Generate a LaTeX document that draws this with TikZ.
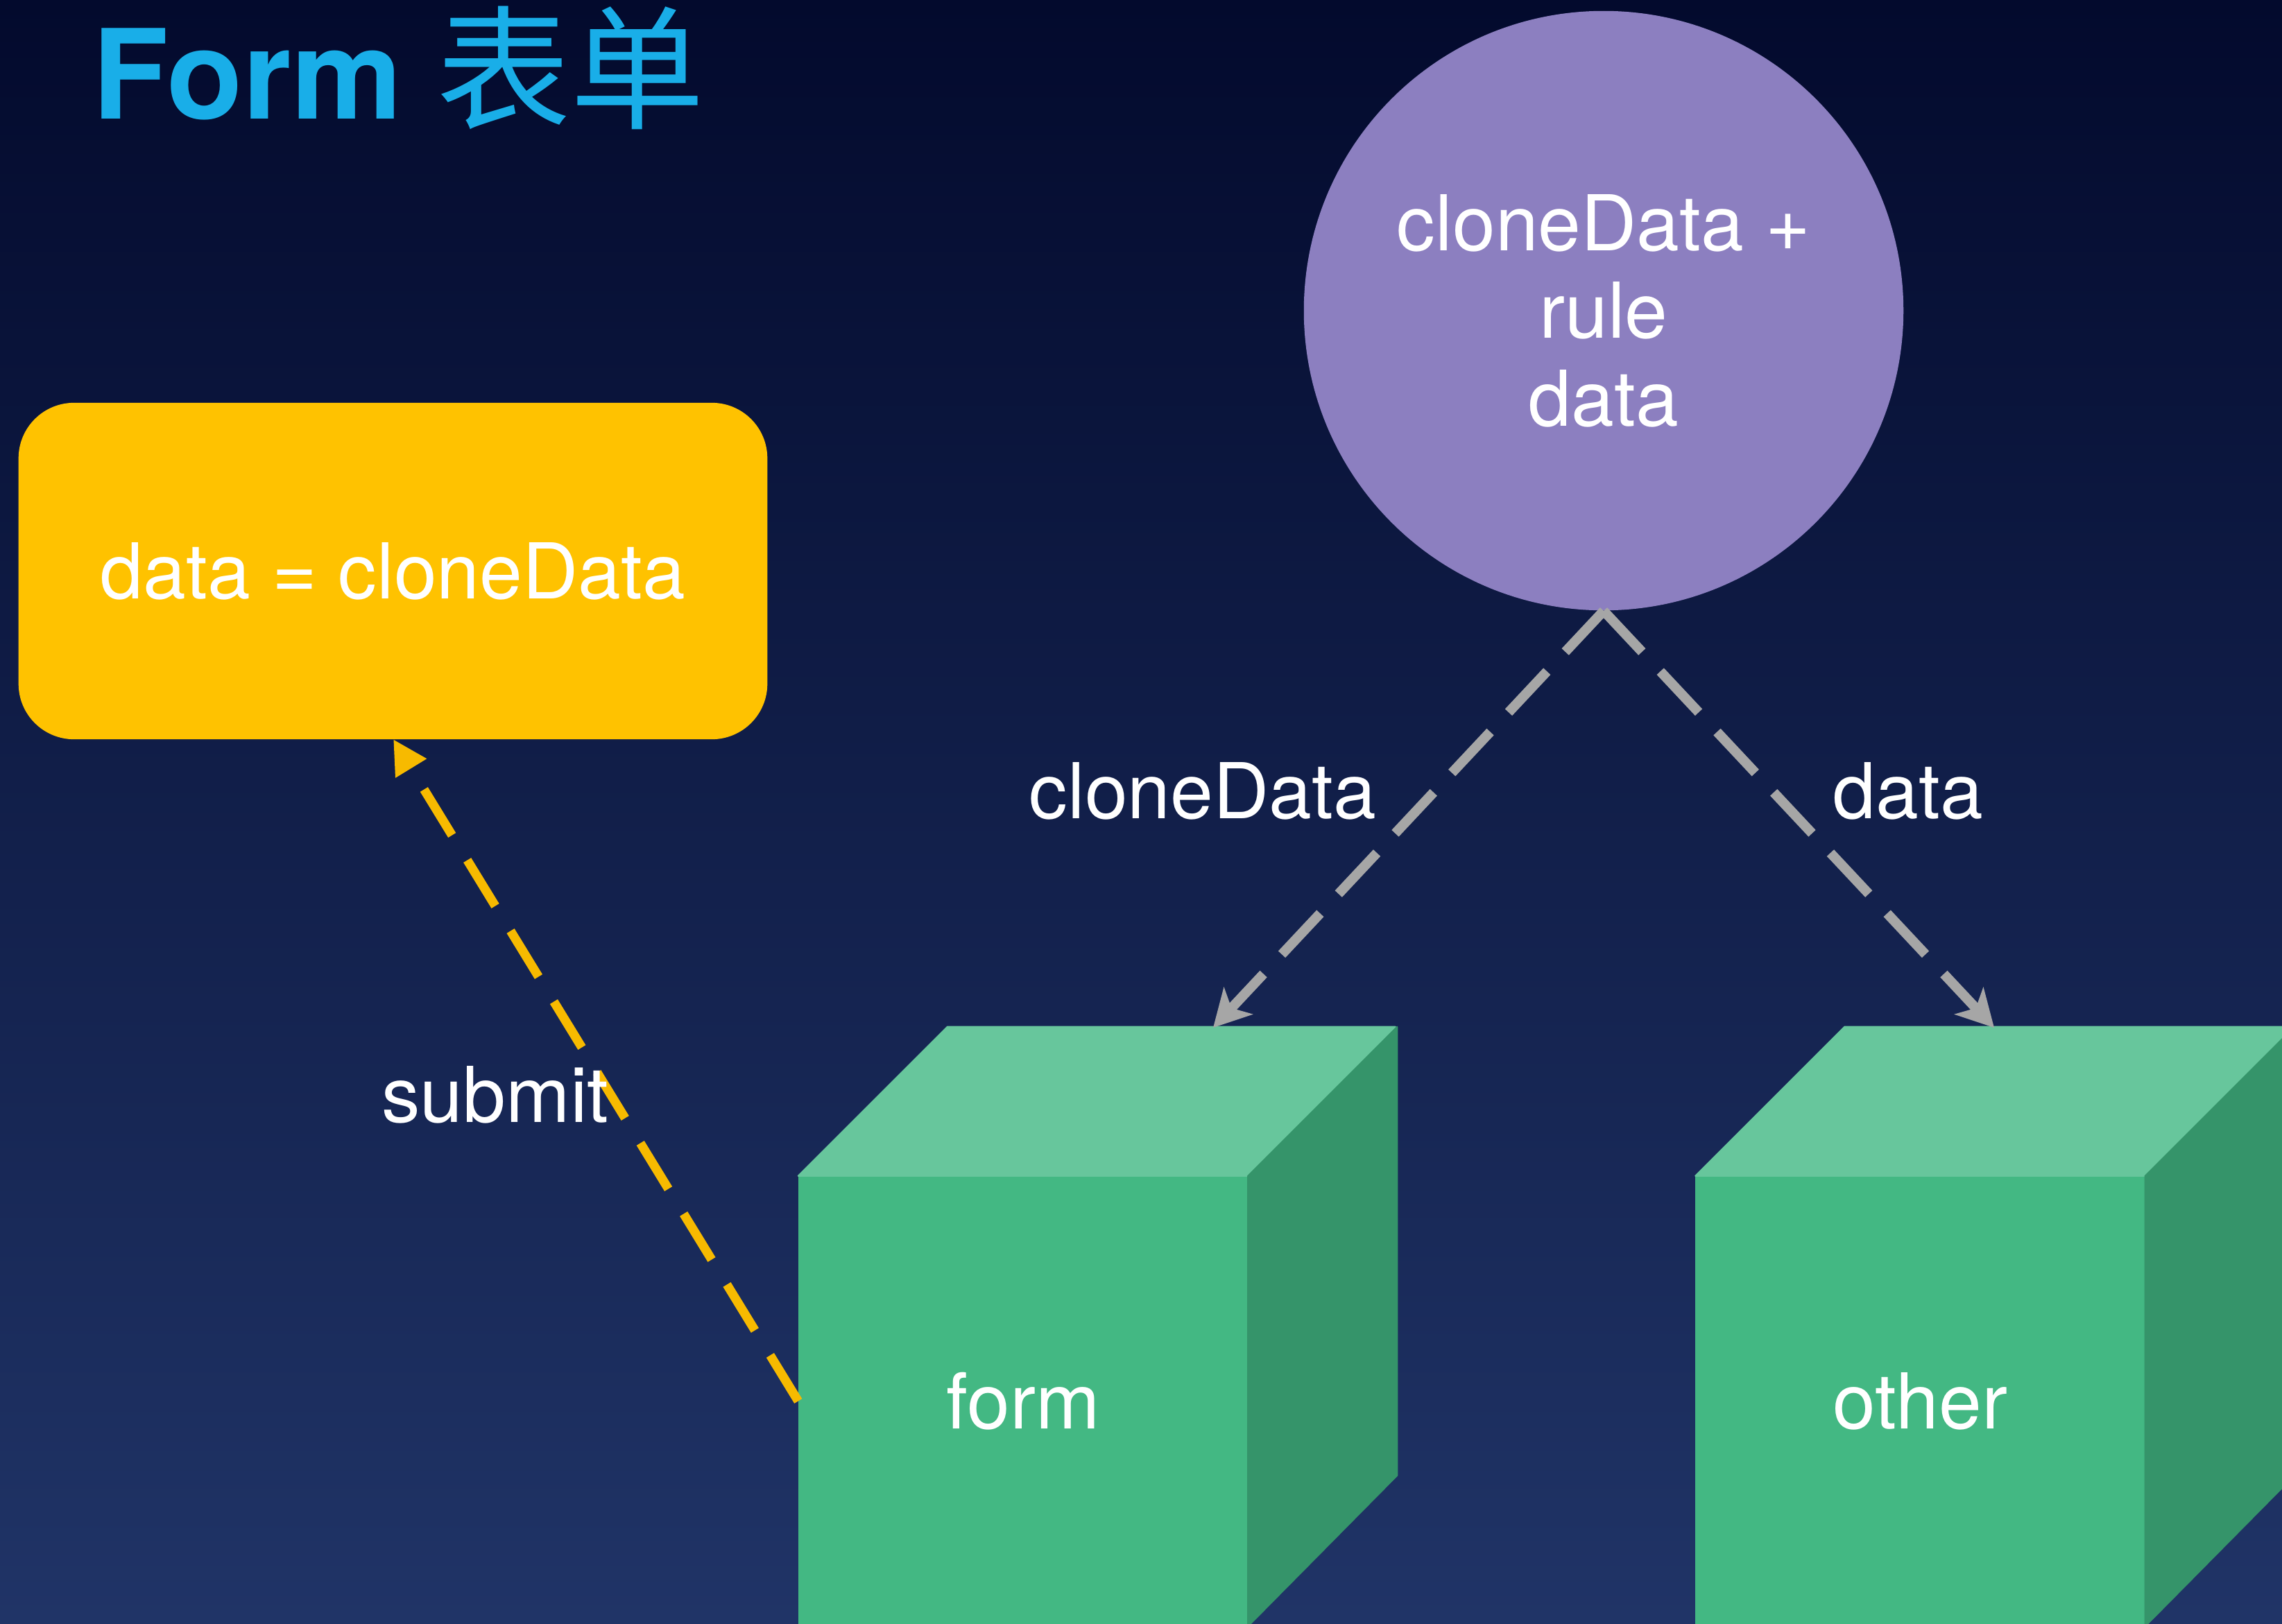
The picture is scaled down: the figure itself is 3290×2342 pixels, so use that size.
\documentclass[tikz,border=0pt]{standalone}
\usepackage{fontspec}
\setmainfont{TeX Gyre Heros}
\newfontfamily\cjkfont{Noto Sans CJK SC}
\usetikzlibrary{arrows.meta,calc}
\definecolor{bgtop}{HTML}{030A2D}
\definecolor{bgbot}{HTML}{203467}
\definecolor{titleblue}{HTML}{19AEE8}
\definecolor{boxyellow}{HTML}{FFC200}
\definecolor{lineyellow}{HTML}{F7BA00}
\definecolor{poolpurple}{HTML}{8C7FC0}
\definecolor{cubefront}{HTML}{43B883}
\definecolor{cubetop}{HTML}{67C69C}
\definecolor{cubeside}{HTML}{35946A}
\definecolor{arrowgray}{HTML}{A6A6A6}
\tikzset{
  lbl/.style={text=white, inner sep=0pt, font=\fontsize{31.6pt}{36pt}\selectfont},
  cubebox/.style={lbl, fill=cubefront, draw=cubefront, line width=0.6pt,
    minimum width=6.46cm, minimum height=6.47cm},
  topface/.style={fill=cubetop, draw=cubetop, line width=0.6pt, line join=round},
  sideface/.style={fill=cubeside, draw=cubeside, line width=0.6pt, line join=round},
  grayflow/.style={draw=arrowgray, line width=4pt, dash pattern=on 23pt off 11pt,
    -{Stealth[length=15pt,width=16pt,inset=4pt]}},
  yellowflow/.style={draw=lineyellow, line width=3.7pt, dash pattern=on 22pt off 12pt,
    -{Triangle[length=14pt,width=14pt]}}
}
\begin{document}
\begin{tikzpicture}[x=0.01cm,y=-0.01cm]
\clip (0,0) rectangle (3290,2342);
\shade[top color=bgtop, bottom color=bgbot] (0,0) rectangle (3290,2342);

% title
\node[anchor=base west, inner sep=0pt, text=titleblue,
  font=\fontsize{51pt}{58pt}\selectfont\bfseries] (title) at (133,171)
  {Form {\mdseries\fontsize{55pt}{60pt}\selectfont\cjkfont 表单}};

% cubes
\node[cubebox] (form) at (1475,2020.5) {form};
\filldraw[topface] (form.north west) -- ++(215,-215) -- ++(646,0) -- (form.north east) -- cycle;
\filldraw[sideface] (form.north east) -- ++(215,-215) -- ++(0,647) -- (form.south east) -- cycle;

\node[cubebox] (other) at (2768.5,2020.5) {other};
\filldraw[topface] (other.north west) -- ++(215,-215) -- ++(646,0) -- (other.north east) -- cycle;
\filldraw[sideface] (other.north east) -- ++(215,-215) -- ++(0,647) -- (other.south east) -- cycle;

% pool circle
\node[lbl, circle, fill=poolpurple, minimum size=8.64cm, align=center] (pool) at (2312,448)
  {cloneData +\\rule\\data};

% assignment box
\node[lbl, fill=boxyellow, rounded corners=0.8cm, minimum width=10.79cm,
  minimum height=4.85cm] (assign) at (566.5,823.5) {data = cloneData};

% connector ends
\coordinate (formin) at (1749,1482);
\coordinate (otherin) at (2875,1482);
\coordinate (assignin) at (567,1066);

% connectors
\draw[grayflow] (pool.south) -- (formin);
\draw[grayflow] (pool.south) -- (otherin);
\draw[yellowflow] (form.west) -- (assignin);

% labels
\node[lbl, anchor=base] (lclone) at (1734,1180) {cloneData};
\node[lbl, anchor=base] (ldata) at (2751,1180) {data};
\node[lbl, anchor=base] (lsubmit) at (714,1618) {submit};
\end{tikzpicture}
\end{document}
